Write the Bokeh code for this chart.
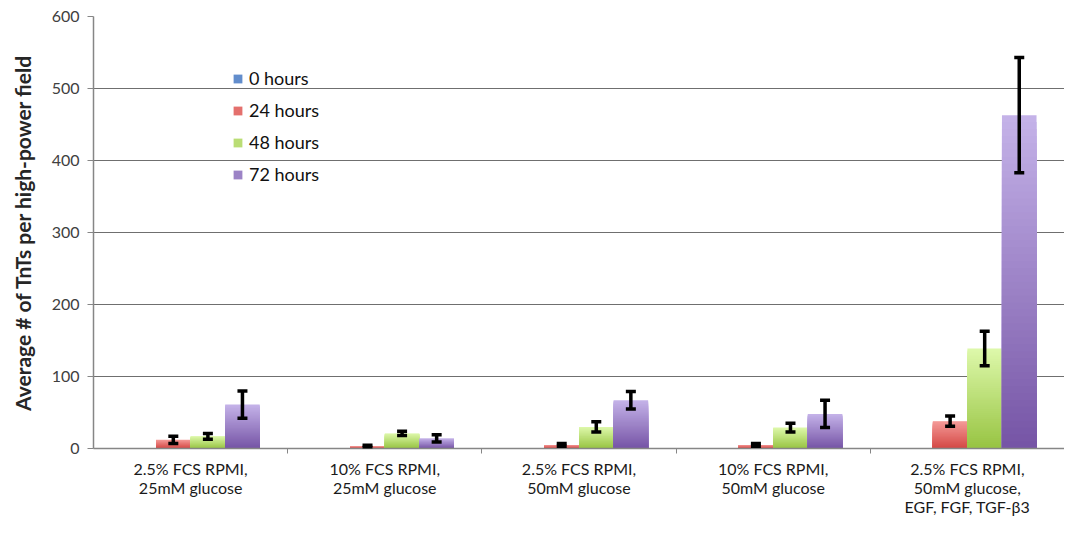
from bokeh.plotting import figure
from bokeh.models import (Range1d, FixedTicker, Whisker, ColumnDataSource,
                          Legend, LegendItem, TeeHead)
from bokeh.embed import file_html
from bokeh.resources import INLINE

# ---------------- data ----------------
categories = [
    "2.5% FCS RPMI,\n25mM glucose",
    "10% FCS RPMI,\n25mM glucose",
    "2.5% FCS RPMI,\n50mM glucose",
    "10% FCS RPMI,\n50mM glucose",
    "2.5% FCS RPMI,\n50mM glucose,\nEGF, FGF, TGF-β3",
]
series_names = ["0 hours", "24 hours", "48 hours", "72 hours"]
hours_0 = [0, 0, 0, 0, 0]
hours_24 = [12, 3, 5, 5, 38]
hours_48 = [17, 21, 30, 29, 139]
hours_72 = [61, 14, 67, 48, 463]
err_0 = [0, 0, 0, 0, 0]
err_24 = [5, 1.5, 2, 2, 7]
err_48 = [4, 3, 7, 6, 24]
err_72 = [19, 5, 12, 19, 80]
y_ticks = [0, 100, 200, 300, 400, 500, 600]

values = [hours_0, hours_24, hours_48, hours_72]
errors = [err_0, err_24, err_48, err_72]

# ---------------- style ----------------
grad = [("#86AEE6", "#3F6DB3"),   # blue
        ("#F49A97", "#D44845"),   # red
        ("#DDF8AA", "#98C443"),   # green
        ("#C4B2E8", "#7655A6")]   # purple
font = "Lato"
N = 48

def lerp(c1, c2, t):
    a = [int(c1[i:i + 2], 16) for i in (1, 3, 5)]
    b = [int(c2[i:i + 2], 16) for i in (1, 3, 5)]
    return "#%02x%02x%02x" % tuple(round(a[j] + (b[j] - a[j]) * t) for j in range(3))

p = figure(width=1064, height=518, output_backend="svg", toolbar_location=None,
           x_range=Range1d(0, len(categories)), y_range=Range1d(0, 600),
           min_border_left=93, min_border_top=16, min_border_bottom=68, min_border_right=0)
p.outline_line_color = None
p.background_fill_color = "white"
p.xgrid.visible = False
p.ygrid.ticker = FixedTicker(ticks=y_ticks[1:-1])
p.ygrid.grid_line_color = "#6f6f6f"
p.ygrid.grid_line_width = 1.2

bw = 0.178
offsets = [-1.5 * bw, -0.5 * bw, 0.5 * bw, 1.5 * bw]

legend_items = []
for si, name in enumerate(series_names):
    xs = [i + 0.5 + offsets[si] for i in range(len(categories))]
    top_c, bot_c = grad[si]
    mid_r = None
    for k in range(N):
        frac = 1 - k / N
        col = lerp(top_c, bot_c, k / (N - 1))
        r = p.vbar(x=xs, top=[v * frac for v in values[si]], width=bw,
                   fill_color=col, line_color=None)
        if k == N // 2:
            mid_r = r
    legend_items.append(LegendItem(label=name, renderers=[mid_r]))
    if any(errors[si]):
        src = ColumnDataSource(dict(
            x=xs,
            upper=[v + e for v, e in zip(values[si], errors[si])],
            lower=[v - e for v, e in zip(values[si], errors[si])]))
        w = Whisker(base="x", upper="upper", lower="lower", source=src,
                    line_width=3.5, line_color="black", level="overlay",
                    upper_head=TeeHead(size=10, line_width=3.5, line_color="black"),
                    lower_head=TeeHead(size=10, line_width=3.5, line_color="black"))
        p.add_layout(w)

legend = Legend(items=legend_items, location=(139, 263), glyph_width=11, glyph_height=11,
                label_height=20, spacing=10, padding=0, margin=0, label_standoff=6,
                background_fill_alpha=0, border_line_alpha=0,
                label_text_font=font, label_text_font_size="18px", label_text_color="#111111")
p.add_layout(legend)

# y axis
p.yaxis.ticker = FixedTicker(ticks=y_ticks)
p.yaxis.axis_label = "Average # of TnTs per high-power field"
p.yaxis.axis_label_text_font = font
p.yaxis.axis_label_text_font_style = "bold"
p.yaxis.axis_label_text_font_size = "21px"
p.yaxis.axis_label_text_color = "#262626"
p.yaxis.axis_label_standoff = 14
p.yaxis.major_label_text_font = font
p.yaxis.major_label_text_font_size = "16px"
p.yaxis.major_label_text_color = "#404040"
p.yaxis.major_label_standoff = 8
p.yaxis.major_tick_in = 0
p.yaxis.major_tick_out = 6
p.yaxis.minor_tick_line_color = None
p.yaxis.axis_line_color = "#868686"
p.yaxis.major_tick_line_color = "#868686"
p.yaxis.axis_line_width = 1.5

# x axis
centers = [i + 0.5 for i in range(len(categories))]
p.xaxis.ticker = FixedTicker(ticks=centers, minor_ticks=[i + 1 for i in range(len(categories))])
p.xaxis.major_label_overrides = {c: lab for c, lab in zip(centers, categories)}
p.xaxis.major_label_text_font = font
p.xaxis.major_label_text_font_size = "16px"
p.xaxis.major_label_text_color = "#1a1a1a"
p.xaxis.major_label_text_line_height = 1.0
p.xaxis.major_label_standoff = 5
p.xaxis.major_tick_line_color = None
p.xaxis.major_tick_in = 0
p.xaxis.major_tick_out = 0
p.xaxis.minor_tick_in = 0
p.xaxis.minor_tick_out = 5
p.xaxis.minor_tick_line_color = "#868686"
p.xaxis.axis_line_color = "#868686"
p.xaxis.axis_line_width = 1.5

open("out.html", "w").write(file_html(p, INLINE))
